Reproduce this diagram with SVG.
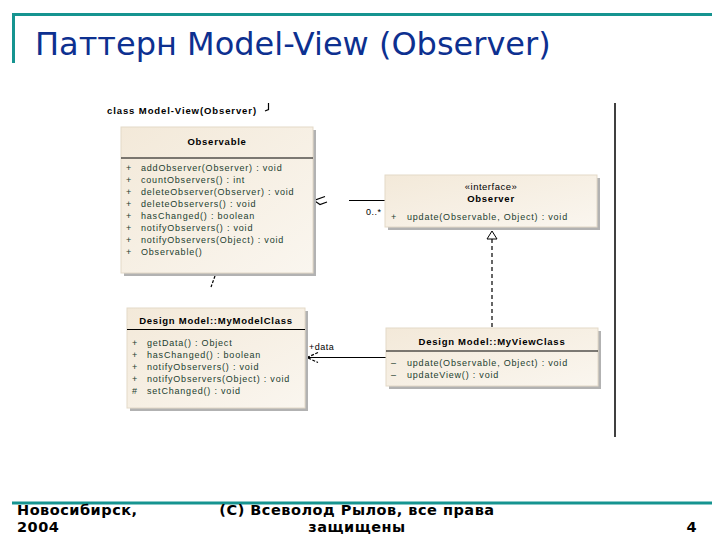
<svg xmlns="http://www.w3.org/2000/svg" width="720" height="540" viewBox="0 0 720 540">
<defs>
<linearGradient id="bg" x1="0" y1="0" x2="1" y2="1">
<stop offset="0" stop-color="#f3e9d9"/>
<stop offset="1" stop-color="#faf6ef"/>
</linearGradient>
<style>
.box{fill:url(#bg);stroke:#e3d9c8;stroke-width:1}
.sh{fill:#b2b2b2}
.sep{stroke:#000;stroke-width:1}
.hd{font-family:"Liberation Sans",Arial,sans-serif;font-weight:bold;font-size:9.5px;letter-spacing:0.75px;fill:#000;text-anchor:middle}
.st{font-family:"Liberation Sans",Arial,sans-serif;font-weight:normal;font-size:9.5px;letter-spacing:0.5px;fill:#000;text-anchor:middle}
.m{font-family:"Liberation Sans",Arial,sans-serif;font-size:9px;letter-spacing:0.8px;fill:#23402f}
.lb{font-family:"Liberation Sans",Arial,sans-serif;font-size:9px;letter-spacing:0.5px;fill:#000}
.ft{font-family:"DejaVu Sans",Verdana,sans-serif;font-weight:bold;font-size:14.5px;letter-spacing:0.5px;fill:#000}
.ln{stroke:#000;stroke-width:1.2;fill:none}
</style>
</defs>
<rect width="720" height="540" fill="#fff"/>
<g id="frame">
<line x1="12" y1="14.5" x2="712" y2="14.5" stroke="#169490" stroke-width="3"/>
<line x1="13.5" y1="13" x2="13.5" y2="63" stroke="#169490" stroke-width="3"/>
<text x="35" y="55" font-family="DejaVu Sans,Verdana,sans-serif" font-size="32" fill="#0d3090">Паттерн Model-View (Observer)</text>
<line x1="12" y1="503" x2="712" y2="503" stroke="#169490" stroke-width="3"/>
<text class="ft" x="17" y="515">Новосибирск,</text>
<text class="ft" x="17" y="532">2004</text>
<text class="ft" x="357" y="515" text-anchor="middle">(C) Всеволод Рылов, все права</text>
<text class="ft" x="357" y="532" text-anchor="middle">защищены</text>
<text class="ft" x="697" y="532" text-anchor="end">4</text>
</g>
<g id="diagram-frame">
<text x="107" y="114" font-family="Liberation Sans,Arial,sans-serif" font-weight="bold" font-size="9.5" letter-spacing="0.9" fill="#000">class Model-View(Observer)</text>
<path d="M268.5,103 L268.5,109.5 L265,111" class="ln" stroke-width="1"/>
<line x1="615" y1="103" x2="615" y2="437" stroke="#000" stroke-width="1.5"/>
</g>
<g id="connectors">
<line x1="349" y1="200.5" x2="385" y2="200.5" class="ln"/>
<polyline points="325,196.5 314,200.5 320,204.5 327,202" class="ln" stroke-width="1"/>
<text class="lb" x="366" y="215">0..*</text>
<line x1="492" y1="239" x2="492" y2="328" class="ln" stroke-dasharray="4,3"/>
<polygon points="492,231 487,239 497,239" fill="#fff" stroke="#000" stroke-width="1"/>
<line x1="307" y1="357.5" x2="386" y2="357.5" class="ln"/>
<polyline points="318,352.5 307,357.5 318,362.5" class="ln" stroke-width="1" stroke-dasharray="3,1.5"/>
<circle cx="307.5" cy="357.5" r="1.4" fill="#000"/>
<text class="lb" x="309" y="350">+data</text>
<line x1="215" y1="276" x2="211" y2="287" class="ln" stroke-width="1" stroke-dasharray="3,1.5"/>
</g>
<g id="Observable">
<rect class="sh" x="124" y="130" width="192" height="146"/>
<rect class="box" x="121" y="127" width="192" height="146"/>
<text class="hd" x="217" y="145">Observable</text>
<line class="sep" x1="121" y1="158" x2="313" y2="158"/>
<g class="m">
<text x="126" y="171">+</text><text x="141" y="171">addObserver(Observer) : void</text>
<text x="126" y="183">+</text><text x="141" y="183">countObservers() : int</text>
<text x="126" y="195">+</text><text x="141" y="195">deleteObserver(Observer) : void</text>
<text x="126" y="207">+</text><text x="141" y="207">deleteObservers() : void</text>
<text x="126" y="219">+</text><text x="141" y="219">hasChanged() : boolean</text>
<text x="126" y="231">+</text><text x="141" y="231">notifyObservers() : void</text>
<text x="126" y="243">+</text><text x="141" y="243">notifyObservers(Object) : void</text>
<text x="126" y="255">+</text><text x="141" y="255">Observable()</text>
</g>
</g>
<g id="Observer">
<rect class="sh" x="388" y="178" width="212" height="52"/>
<rect class="box" x="385" y="175" width="212" height="52"/>
<text class="st" x="491" y="190">«interface»</text>
<text class="hd" x="491" y="202">Observer</text>
<g class="m">
<text x="391" y="220">+</text><text x="407" y="220">update(Observable, Object) : void</text>
</g>
</g>
<g id="MyModelClass">
<rect class="sh" x="130" y="311" width="178" height="100"/>
<rect class="box" x="127" y="308" width="178" height="100"/>
<text class="hd" x="216" y="324">Design Model::MyModelClass</text>
<line class="sep" x1="127" y1="329.5" x2="305" y2="329.5"/>
<g class="m">
<text x="132" y="346">+</text><text x="147" y="346">getData() : Object</text>
<text x="132" y="358">+</text><text x="147" y="358">hasChanged() : boolean</text>
<text x="132" y="370">+</text><text x="147" y="370">notifyObservers() : void</text>
<text x="132" y="382">+</text><text x="147" y="382">notifyObservers(Object) : void</text>
<text x="132" y="394">#</text><text x="147" y="394">setChanged() : void</text>
</g>
</g>
<g id="MyViewClass">
<rect class="sh" x="389" y="331" width="212" height="58"/>
<rect class="box" x="386" y="328" width="212" height="58"/>
<text class="hd" x="492" y="345">Design Model::MyViewClass</text>
<line class="sep" x1="386" y1="351" x2="598" y2="351"/>
<g class="m">
<text x="391" y="366">–</text><text x="407" y="366">update(Observable, Object) : void</text>
<text x="391" y="378">–</text><text x="407" y="378">updateView() : void</text>
</g>
</g>
</svg>
